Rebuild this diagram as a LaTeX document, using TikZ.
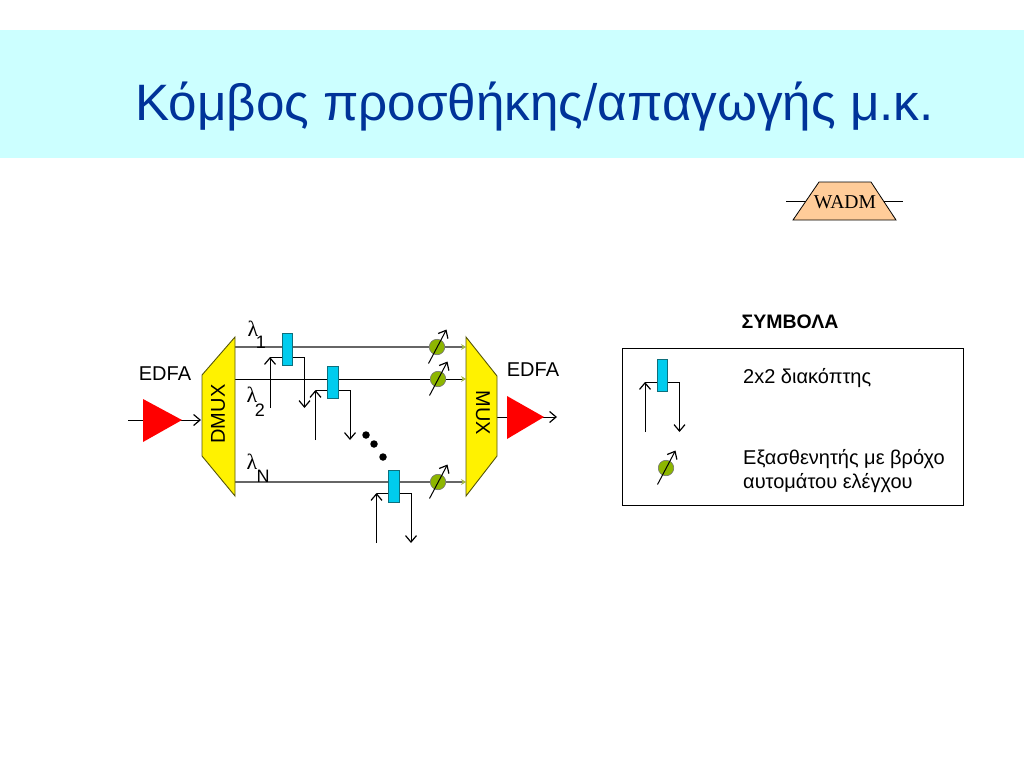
\documentclass[tikz,border=0pt]{standalone}
\usepackage{fontspec}
\setmainfont{Liberation Sans}
\newfontfamily\serifgr{Liberation Serif}
\usetikzlibrary{arrows.meta, backgrounds}

\definecolor{bandcol}{HTML}{CCFFFF}
\definecolor{titlecol}{HTML}{003399}
\definecolor{wadmcol}{HTML}{FFCC99}
\definecolor{swcol}{HTML}{00CCEE}
\definecolor{swedge}{HTML}{0E6F7C}
\definecolor{attcol}{HTML}{8DB600}
\definecolor{tipcol}{HTML}{A6B94A}
\definecolor{muxedge}{HTML}{55550A}

\tikzset{
	sigline/.style={line width=1pt, black},
	greyline/.style={line width=1.4pt, black!60},
	arr/.style={-{Straight Barb[length=6.5pt, width=11pt, line width=1.2pt]}},
	tiparr/.style={-{Stealth[length=5pt, width=6pt, color=tipcol]}},
	swbox/.style={draw=swedge, fill=swcol, line width=0.8pt, minimum width=10.5pt, minimum height=32pt, inner sep=0pt},
	attcirc/.style={circle, draw=black!55, fill=attcol, line width=0.6pt, minimum size=15.5pt, inner sep=0pt},
	muxshape/.style={draw=muxedge, fill=yellow, line width=0.9pt},
	ampshape/.style={fill=red},
	lab/.style={font=\fontsize{20}{24}\selectfont, inner sep=0pt},
	sublab/.style={font=\fontsize{18}{20}\selectfont, inner sep=0pt},
	lam/.style={font=\serifgr\fontsize{22}{24}\selectfont, inner sep=0pt},
	dotnode/.style={circle, fill=black, minimum size=7.5pt, inner sep=0pt},
}

\begin{document}
\begin{tikzpicture}[x=1pt, y=-1pt]
	\useasboundingbox (0,0) rectangle (1024,768);
	\fill[bandcol] (0,30) rectangle (1024,158);
	\node[font=\fontsize{51.2}{60}\selectfont, text=titlecol, inner sep=0pt, anchor=west] (title) at (135,107) {Κόμβος προσθήκης/απαγωγής μ.κ.};
	
	% WADM
	\coordinate (wl) at (786,201);
	\coordinate (wr) at (903,201);
	\draw[sigline] (wl) -- (wr);
	\draw[fill=wadmcol, line width=0.8pt] (819,182) -- (871,182) -- (896,220) -- (793,220) -- cycle;
	\node[font=\serifgr\fontsize{19.6}{22}\selectfont, inner sep=0pt] (wadm) at (845,202) {WADM};
	
	% dmux, mux, amplifiers
	\draw[muxshape] (235,337) -- (235,496) -- (202,456) -- (202,375) -- cycle;
	\draw[muxshape] (466,337) -- (466,496) -- (497,456) -- (497,376) -- cycle;
	\node[lab, rotate=90] (dmux) at (218,414) {DMUX};
	\node[lab, rotate=-90] (mux) at (483,413) {MUX};
	\fill[ampshape] (143,399) -- (143,442) -- (182,420) -- cycle;
	\fill[ampshape] (507,396) -- (507,439) -- (544,417) -- cycle;
	\coordinate (inl) at (128,420);
	\coordinate (inr) at (201,420);
	\coordinate (outl) at (497,417);
	\coordinate (outr) at (557,417);
	\node[lab] (edfaa) at (165,374) {EDFA};
	\node[lab] (edfab) at (533,370) {EDFA};
	
	% attenuators and switches
	\foreach \nm/\cx/\cy in {att1/437/347, att2/438/379, attN/438/482, attk/666/468} {
		\node[attcirc] (\nm) at (\cx,\cy) {};
		\draw[sigline, arr] (\cx-8.5,\cy+16.5) -- (\cx+9.5,\cy-17.5);
	}
	\foreach \nm/\cx/\cy/\army/\lowy in {sw1/287.5/349.5/357/408, sw2/333/382.5/390/440, swN/394/486/493/543, swk/662.5/375/382/432} {
		\coordinate (\nm a) at (\cx-17.5,\lowy);
		\coordinate (\nm b) at (\cx-17.5,\army);
		\coordinate (\nm c) at (\cx+17,\army);
		\coordinate (\nm d) at (\cx+17,\lowy);
		\draw[sigline, arr] (\nm a) -- (\nm b);
		\draw[sigline] (\nm b) -- (\nm c);
		\draw[sigline, arr] (\nm c) -- (\nm d);
		\node[swbox] (\nm) at (\cx,\cy) {};
	}
	
	\coordinate (dm1) at (235,347);
	\coordinate (dm2) at (235,379);
	\coordinate (dmN) at (235,482);
	\coordinate (mx1) at (466,347);
	\coordinate (mx2) at (466,379);
	\coordinate (mxN) at (466,482);
	\begin{scope}[on background layer]
		\draw[greyline] (dm1) -- (att1);
		\draw[sigline] (dm2) -- (att2);
		\draw[greyline] (dmN) -- (attN);
		\draw[greyline, tiparr] (att1) -- (mx1);
		\draw[sigline, tiparr] (att2) -- (mx2);
		\draw[greyline, tiparr] (attN) -- (mxN);
		\draw[sigline, arr] (inl) -- (inr);
		\draw[sigline, arr] (outl) -- (outr);
	\end{scope}
	
	\node[dotnode] (dota) at (366,435) {};
	\node[dotnode] (dotb) at (374,444) {};
	\node[dotnode] (dotc) at (383,457) {};
	
	\node[lam] (lam1) at (253,329) {λ};
	\node[sublab] (sub1) at (261,342) {1};
	\node[lam] (lam2) at (252,395) {λ};
	\node[sublab] (sub2) at (260,410) {2};
	\node[lam] (lamN) at (252,462) {λ};
	\node[sublab] (subN) at (263,476) {N};
	
	% legend
	\node[font=\bfseries\fontsize{19.5}{22}\selectfont, inner sep=0pt] (symb) at (790,322) {ΣΥΜΒΟΛΑ};
	\begin{scope}[on background layer]
		\draw[line width=1pt] (622,348) rectangle (963,505);
	\end{scope}
	\node[lab, anchor=west] (txta) at (743,378) {2x2 διακόπτης};
	\node[lab, anchor=west] (txtb) at (743,459) {Εξασθενητής με βρόχο};
	\node[lab, anchor=west] (txtc) at (743,483) {αυτομάτου ελέγχου};
\end{tikzpicture}
\end{document}
